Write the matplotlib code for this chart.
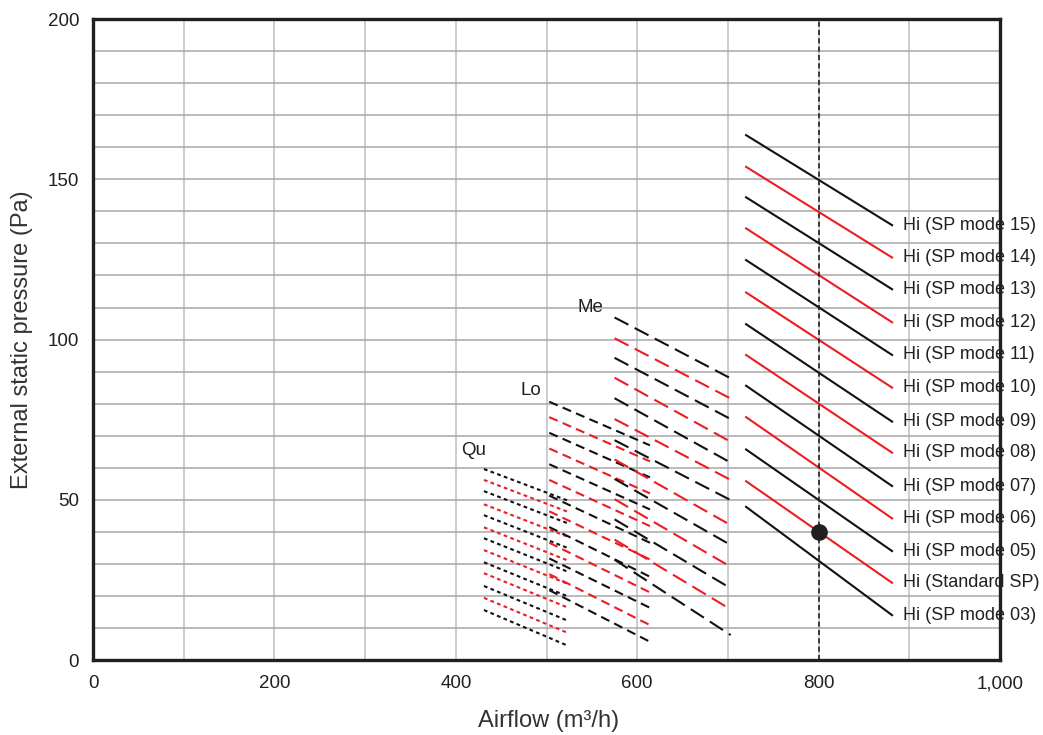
import matplotlib
matplotlib.use('Agg')
import matplotlib.pyplot as plt
from matplotlib.ticker import MultipleLocator, FuncFormatter

plt.rcParams['font.family'] = ['Liberation Sans', 'DejaVu Sans']

# one line per SP mode, top to bottom
hi_labels = ['Hi (SP mode 15)', 'Hi (SP mode 14)', 'Hi (SP mode 13)', 'Hi (SP mode 12)',
             'Hi (SP mode 11)', 'Hi (SP mode 10)', 'Hi (SP mode 09)', 'Hi (SP mode 08)',
             'Hi (SP mode 07)', 'Hi (SP mode 06)', 'Hi (SP mode 05)', 'Hi (Standard SP)',
             'Hi (SP mode 03)']
line_colors = ['black', 'red'] * 6 + ['black']

hi_x = [720, 881]
hi_start = [163.8, 153.9, 144.4, 134.7, 124.8, 114.7, 104.8, 95.2, 85.6, 75.8, 65.7, 55.8, 47.8]
hi_end = [135.7, 125.6, 115.7, 105.4, 95.2, 85.0, 74.4, 64.7, 54.3, 44.2, 34.0, 24.1, 14.0]

me_x = [575, 703]
me_start = [106.9, 100.4, 94.3, 88.1, 81.7, 75.2, 68.6, 62.6, 56.5, 50.2, 43.9, 37.6, 31.3]
me_end = [87.9, 81.6, 75.2, 68.1, 61.6, 56.2, 49.9, 42.1, 35.9, 29.1, 22.4, 15.8, 7.8]

lo_x = [503, 614]
lo_start = [80.6, 75.8, 70.9, 66.0, 61.1, 56.2, 51.3, 46.4, 41.5, 36.6, 31.7, 26.8, 21.8]
lo_end = [67.0, 62.0, 57.0, 52.0, 47.0, 41.8, 36.6, 31.4, 26.0, 21.1, 16.3, 10.9, 5.7]

qu_x = [431, 524]
qu_start = [59.6, 56.2, 52.7, 48.6, 45.2, 41.4, 38.0, 34.3, 30.5, 27.1, 23.1, 19.4, 15.6]
qu_end = [49.7, 46.2, 42.6, 38.4, 34.9, 31.0, 27.5, 23.7, 19.8, 16.3, 12.2, 8.4, 4.4]

rated_airflow = 800
rated_pressure = 40

color_map = {'black': '#111111', 'red': '#ed1c24'}
txt = '#231f20'

fig = plt.figure(figsize=(10.43, 7.35), dpi=100)
ax = fig.add_axes([0.0892, 0.102, 0.8696, 0.8720])

ax.set_xlim(0, 1000)
ax.set_ylim(0, 200)
ax.xaxis.set_major_locator(MultipleLocator(200))
ax.xaxis.set_minor_locator(MultipleLocator(100))
ax.yaxis.set_major_locator(MultipleLocator(50))
ax.yaxis.set_minor_locator(MultipleLocator(10))
ax.xaxis.set_major_formatter(FuncFormatter(lambda v, p: '{:,.0f}'.format(v)))
ax.tick_params(which='both', length=0, labelsize=13.5, colors=txt)
ax.tick_params(axis='x', pad=11)
ax.tick_params(axis='y', pad=10)
ax.grid(axis='x', which='both', color='#c0c0c0', lw=1.1, zorder=0)
ax.grid(axis='y', which='both', color='#a8a8a8', lw=1.1, zorder=0)
ax.set_axisbelow(True)
for s in ax.spines.values():
    s.set_linewidth(2.4)
    s.set_color('#231f20')

lw = 1.5
groups = [(qu_x, qu_start, qu_end, (1.8, 1.6)),
          (lo_x, lo_start, lo_end, (4.4, 2.6)),
          (me_x, me_start, me_end, (7.5, 3.4))]
for xs, ys0, ys1, dash in groups:
    for i in range(len(ys0)):
        ax.plot(xs, [ys0[i], ys1[i]], color=color_map[line_colors[i]], lw=lw,
                dashes=dash, dash_capstyle='butt', zorder=3)

for i in range(len(hi_start)):
    ax.plot(hi_x, [hi_start[i], hi_end[i]], color=color_map[line_colors[i]], lw=lw, zorder=3)
    ax.text(hi_x[1] + 12, hi_end[i], hi_labels[i], fontsize=13, color=txt,
            ha='left', va='center', zorder=2)

ax.axvline(rated_airflow, color='#231f20', lw=1.2, dashes=(3, 2), zorder=4)
ax.plot([rated_airflow], [rated_pressure], 'o', color='#231f20', ms=11, zorder=5)

ax.text(419, 65.5, 'Qu', fontsize=13.5, color=txt, ha='center', va='center')
ax.text(483, 84.2, 'Lo', fontsize=13.5, color=txt, ha='center', va='center')
ax.text(548, 110.1, 'Me', fontsize=13.5, color=txt, ha='center', va='center')

fig.text(549 / 1043, 1 - 721 / 735, 'Airflow (m³/h)', fontsize=17, color='#333333',
         ha='center', va='center')
fig.text(22 / 1043, 1 - 340 / 735, 'External static pressure (Pa)', fontsize=17,
         color='#333333', ha='center', va='center', rotation=90)

fig.savefig('out.png', dpi=100)
